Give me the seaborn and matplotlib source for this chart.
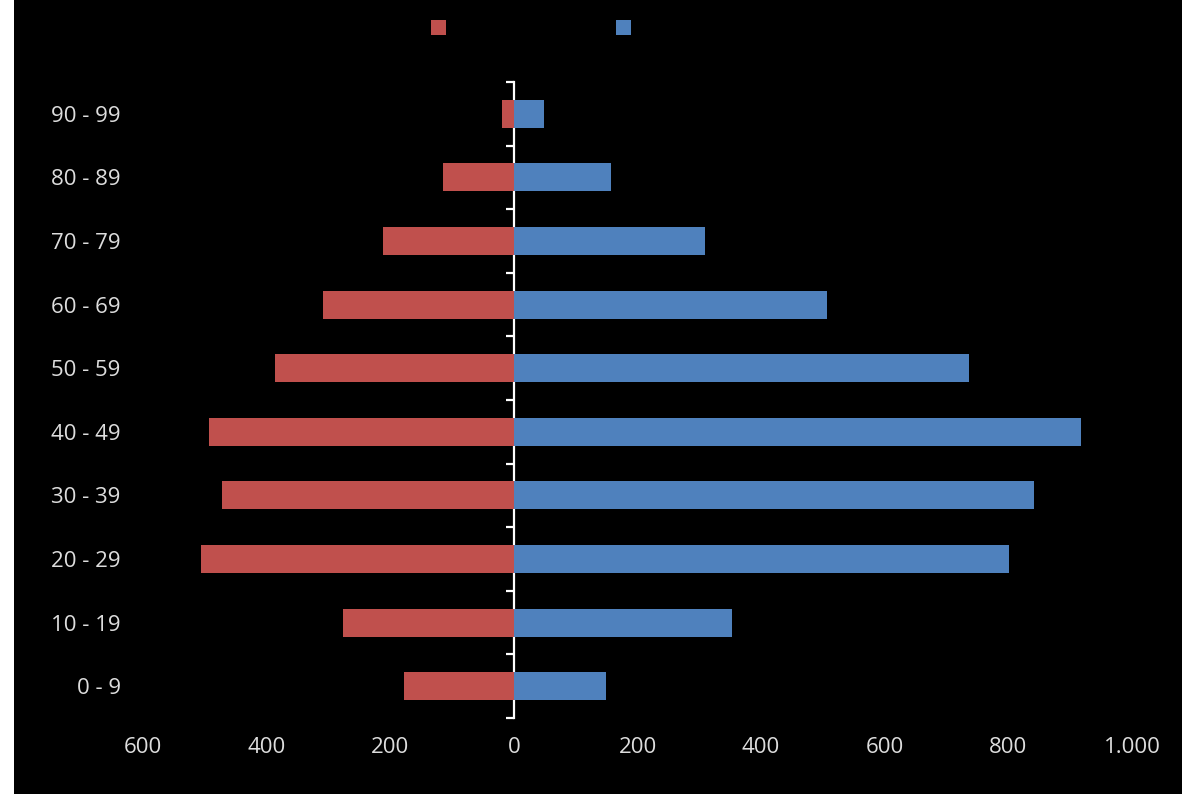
import pandas as pd
import matplotlib.pyplot as plt
import seaborn as sns
from matplotlib.patches import Patch, Rectangle
from matplotlib.ticker import FuncFormatter

age_groups = ['90 - 99', '80 - 89', '70 - 79', '60 - 69', '50 - 59',
              '40 - 49', '30 - 39', '20 - 29', '10 - 19', '0 - 9']
female = [20, 115, 212, 309, 387, 494, 472, 506, 277, 178]
male = [49, 157, 309, 506, 736, 917, 841, 801, 353, 149]
x_ticks = [-600, -400, -200, 0, 200, 400, 600, 800, 1000]

red = '#C0504D'
blue = '#4F81BD'
txt = '#DDDDDD'

df = pd.DataFrame({
    'age': age_groups * 2,
    'value': [-v for v in female] + male,
    'sex': ['F'] * len(female) + ['M'] * len(male),
})

sns.set_style('dark')
plt.rcParams['font.family'] = ['Open Sans', 'DejaVu Sans']

fig = plt.figure(figsize=(11.82, 7.94), dpi=100, facecolor='white')
# black panel, white strip on the left edge
fig.patches.append(Rectangle((14 / 1182, 0), 1, 1, transform=fig.transFigure,
                             facecolor='black', edgecolor='none', zorder=-5))
ax = fig.add_axes([143 / 1182, 1 - 718 / 794, (1132 - 143) / 1182, (718 - 82) / 794])
ax.set_facecolor('black')

sns.barplot(data=df, y='age', x='value', hue='sex', order=age_groups,
            palette={'F': red, 'M': blue}, dodge=False, width=0.44,
            orient='h', legend=False, saturation=1, linewidth=0, ax=ax)

ax.set_xlim(-600, 1000)
ax.set_ylim(len(age_groups) - 0.5, -0.5)
ax.set_xticks(x_ticks)
ax.xaxis.set_major_formatter(FuncFormatter(lambda v, p: f'{abs(int(v)):,}'.replace(',', '.')))
ax.set_xlabel('')
ax.set_ylabel('')
ax.grid(False)
for s in ax.spines.values():
    s.set_visible(False)
ax.tick_params(axis='x', length=0, pad=14, labelsize=16, labelcolor=txt)
ax.tick_params(axis='y', length=0, pad=16, labelsize=16, labelcolor=txt)

# category axis drawn at x = 0 with ticks between groups
sec = ax.secondary_yaxis(600 / 1600)
sec.set_yticks([i - 0.5 for i in range(len(age_groups) + 1)])
sec.set_yticklabels([])
sec.spines['left'].set_color('white')
sec.spines['left'].set_linewidth(1.6)
sec.tick_params(axis='y', length=6, width=1.6, color='white', direction='out')
for s in ['right', 'top', 'bottom']:
    if s in sec.spines:
        sec.spines[s].set_visible(False)

handles = [Patch(facecolor=red, edgecolor='none', label=' '),
           Patch(facecolor=blue, edgecolor='none', label=' ')]
fig.legend(handles=handles, loc='center left', bbox_to_anchor=(421 / 1182, 1 - 29 / 794),
           ncol=2, frameon=False, handlelength=0.7, handleheight=0.7,
           handletextpad=0.2, columnspacing=7.7, borderpad=0, fontsize=15)

fig.savefig('out.png', dpi=100, facecolor=fig.get_facecolor())
